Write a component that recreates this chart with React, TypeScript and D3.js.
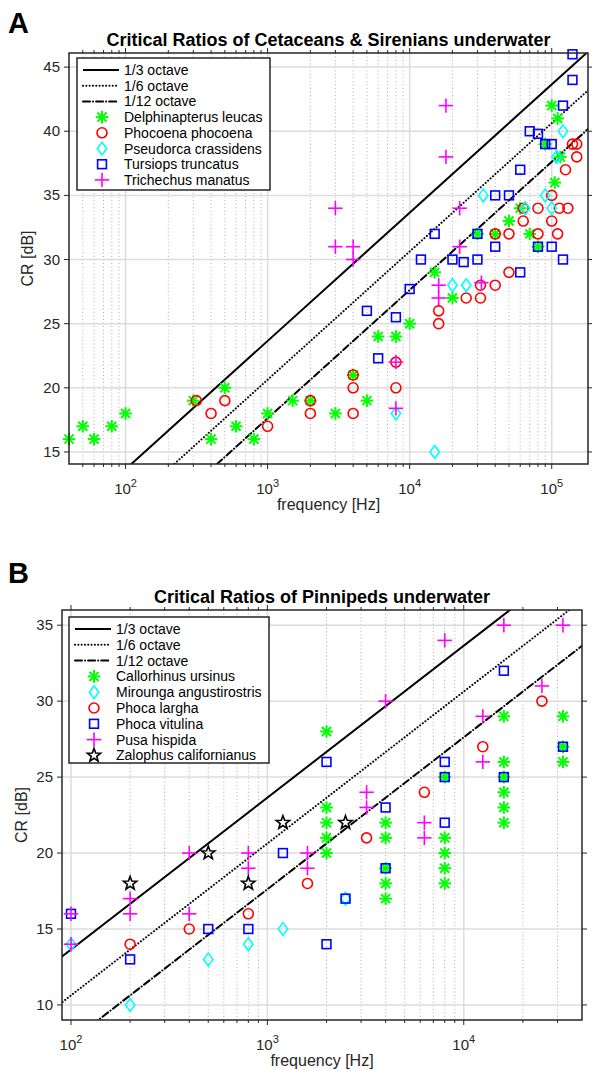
import React from 'react'
import * as d3 from 'd3'

// ---- panel A: cetaceans & sirenians ----
const cetaceanNames = ['Delphinapterus leucas', 'Phocoena phocoena', 'Pseudorca crassidens', 'Tursiops truncatus', 'Trichechus manatus']

const delphinapterus = [
  [40, 16], [50, 17], [60, 16], [80, 17], [100, 18], [300, 19], [400, 16], [500, 20], [600, 17], [800, 16],
  [1000, 18], [1500, 19], [2000, 19], [3000, 18], [4000, 21], [5000, 19], [6000, 24], [8000, 24], [10000, 25],
  [15000, 29], [20000, 27], [30000, 32], [40000, 32], [50000, 33], [60000, 34], [70000, 32], [80000, 31],
  [90000, 39], [100000, 42], [105000, 36], [110000, 41], [115000, 38],
]
const phocoena = [
  [315, 19], [400, 18], [500, 19], [1000, 17], [2000, 19], [2000, 18], [4000, 18], [4000, 20], [4000, 21],
  [8000, 22], [8000, 20], [16000, 26], [16000, 25], [25000, 27], [31500, 27], [31500, 28], [40000, 28], [40000, 32],
  [50000, 32], [50000, 29], [63000, 33], [63000, 34], [80000, 34], [80000, 32], [100000, 35], [100000, 33],
  [110000, 32], [113000, 34], [125000, 37], [130000, 34], [140000, 39], [150000, 39], [150000, 38],
]
const pseudorca = [
  [8000, 18], [15000, 15], [20000, 28], [25000, 28], [33000, 35], [65000, 34], [90000, 35], [100000, 34],
  [108000, 38], [120000, 40],
]
const tursiops = [
  [5000, 26], [6000, 22.3], [8000, 25.5], [10000, 27.7], [12000, 30], [15000, 32], [20000, 30], [24000, 29.8],
  [30000, 30], [30000, 32], [40000, 31], [40000, 35], [50000, 35], [60000, 29], [60000, 37], [70000, 40],
  [80000, 39.8], [80000, 31], [90000, 39], [100000, 39], [100000, 31], [120000, 42], [120000, 30], [140000, 44],
  [140000, 46],
]
const trichechus = [
  [3000, 34], [3000, 31], [4000, 31], [4000, 30], [8000, 22], [8000, 18.4], [16000, 28], [16000, 27], [18000, 42],
  [18000, 38], [22500, 34], [22500, 31], [32000, 28.2],
]

// ---- panel B: pinnipeds ----
const pinnipedNames = ['Callorhinus ursinus', 'Mirounga angustirostris', 'Phoca largha', 'Phoca vitulina', 'Pusa hispida', 'Zalophus californianus']

const callorhinus = [
  [2000, 28], [2000, 23], [2000, 22], [2000, 21], [2000, 20], [4000, 22], [4000, 21], [4000, 19], [4000, 18],
  [4000, 17], [8000, 25], [8000, 21], [8000, 20], [8000, 19], [8000, 18], [16000, 29], [16000, 26], [16000, 25],
  [16000, 24], [16000, 23], [16000, 22], [32000, 29], [32000, 27], [32000, 26],
]
const mirounga = [[100, 14], [200, 10], [500, 13], [800, 14], [1200, 15], [2500, 17]]
const phocaLargha = [[200, 14], [400, 15], [800, 16], [1600, 18], [3200, 21], [6300, 24], [12500, 27], [25000, 30]]
const phocaVitulina = [
  [100, 16], [200, 13], [500, 15], [800, 15], [1200, 20], [2000, 26], [2000, 14], [2500, 17], [4000, 23], [4000, 19],
  [8000, 26], [8000, 25], [8000, 22], [16000, 32], [16000, 25], [32000, 27],
]
const pusa = [
  [100, 16], [100, 14], [200, 17], [200, 16], [400, 20], [400, 16], [800, 20], [800, 19], [1600, 20], [1600, 19],
  [3200, 24], [3200, 23], [4000, 30], [6300, 22], [6300, 21], [8000, 34], [12500, 29], [12500, 26], [16000, 35],
  [25000, 31], [32000, 35],
]
const zalophus = [[200, 18], [500, 20], [800, 18], [1200, 22], [2500, 22]]

// critical-ratio lines for fixed fractional-octave bandwidths, [freq, CR] end points
const octaveLabels = ['1/3 octave', '1/6 octave', '1/12 octave']
const octaveLines = [
  [[10, 3.65], [1e6, 53.65]],
  [[10, 0.63], [1e6, 50.63]],
  [[10, -2.38], [1e6, 47.62]],
]

const yTicksA = [15, 20, 25, 30, 35, 40, 45]
const yTicksB = [10, 15, 20, 25, 30, 35]
const xTicksA = [1e2, 1e3, 1e4, 1e5]
const xTicksB = [1e2, 1e3, 1e4]

const dashes = [null, '0.1,3.2', '7,3,0.1,3']
const axisColor = '#262626'
const font = 'Liberation Sans, Arial, Helvetica, sans-serif'

const Marker = ({ type, x, y, color }) => {
  const sw = 1.6
  if (type === 'asterisk') {
    const r = 6.3, d = r * 0.72
    return (
      <g stroke={color} strokeWidth={2}>
        <line x1={x - r} y1={y} x2={x + r} y2={y} />
        <line x1={x} y1={y - r} x2={x} y2={y + r} />
        <line x1={x - d} y1={y - d} x2={x + d} y2={y + d} />
        <line x1={x - d} y1={y + d} x2={x + d} y2={y - d} />
      </g>
    )
  }
  if (type === 'circle') return <circle cx={x} cy={y} r={5} fill="none" stroke={color} strokeWidth={sw} />
  if (type === 'square') return <rect x={x - 4.4} y={y - 4.4} width={8.8} height={8.8} fill="none" stroke={color} strokeWidth={sw} />
  if (type === 'diamond') {
    return <path d={`M${x},${y - 6.4}L${x + 4.7},${y}L${x},${y + 6.4}L${x - 4.7},${y}Z`} fill="none" stroke={color} strokeWidth={sw} />
  }
  if (type === 'plus') {
    const r = 7.2
    return (
      <g stroke={color} strokeWidth={sw}>
        <line x1={x - r} y1={y} x2={x + r} y2={y} />
        <line x1={x} y1={y - r} x2={x} y2={y + r} />
      </g>
    )
  }
  // pentagram
  const pts = d3.range(10).map(i => {
    const a = -Math.PI / 2 + (i * Math.PI) / 5
    const rr = i % 2 === 0 ? 7 : 2.9
    return [x + rr * Math.cos(a), y + rr * Math.sin(a)]
  })
  return <path d={'M' + pts.map(p => p.join(',')).join('L') + 'Z'} fill="none" stroke={color} strokeWidth={sw} />
}

const Panel = ({ id, letter, letterY, title, titleY, box, xDomain, yDomain, xTicks, yTicks, series, legend, ylabelX }) => {
  const x = d3.scaleLog().domain(xDomain).range([box.l, box.r])
  const y = d3.scaleLinear().domain(yDomain).range([box.b, box.t])
  const minor = []
  for (let d = Math.floor(Math.log10(xDomain[0])); d <= Math.ceil(Math.log10(xDomain[1])); d++) {
    for (let k = 2; k <= 9; k++) {
      const v = k * Math.pow(10, d)
      if (v > xDomain[0] && v < xDomain[1]) minor.push(v)
    }
  }
  const lineGen = d3.line().x(p => x(p[0])).y(p => y(p[1]))
  const rowY = i => legend.y + 12 + i * legend.row
  return (
    <g fontFamily={font}>
      <text x={8} y={letterY} fontSize={29} fontWeight="bold">{letter}</text>
      <text x={(box.l + box.r) / 2} y={titleY} fontSize={18} fontWeight="bold" textAnchor="middle">{title}</text>
      <clipPath id={id}>
        <rect x={box.l} y={box.t} width={box.r - box.l} height={box.b - box.t} />
      </clipPath>
      {/* grid */}
      {minor.map(v => (
        <line key={'m' + v} x1={x(v)} x2={x(v)} y1={box.t} y2={box.b} stroke="#b0b0b0" strokeWidth={1} strokeDasharray="1,2.5" />
      ))}
      {xTicks.map(v => (
        <line key={'gx' + v} x1={x(v)} x2={x(v)} y1={box.t} y2={box.b} stroke="#dcdcdc" strokeWidth={1.5} />
      ))}
      {yTicks.map(v => (
        <line key={'gy' + v} x1={box.l} x2={box.r} y1={y(v)} y2={y(v)} stroke="#dcdcdc" strokeWidth={1.5} />
      ))}
      {/* bandwidth lines */}
      <g clipPath={`url(#${id})`}>
        {octaveLines.map((ln, i) => (
          <path key={i} d={lineGen(ln)} fill="none" stroke="#000" strokeWidth={2}
            strokeDasharray={dashes[i] || undefined} strokeLinecap={dashes[i] ? 'round' : 'butt'} />
        ))}
      </g>
      {/* data */}
      {series.map(s => (
        <g key={s.name}>
          {s.data.map((p, i) => <Marker key={i} type={s.marker} color={s.color} x={x(p[0])} y={y(p[1])} />)}
        </g>
      ))}
      {/* frame and ticks */}
      <rect x={box.l} y={box.t} width={box.r - box.l} height={box.b - box.t} fill="none" stroke={axisColor} strokeWidth={1.5} />
      {minor.map(v => (
        <g key={'mt' + v} stroke={axisColor} strokeWidth={1}>
          <line x1={x(v)} x2={x(v)} y1={box.b} y2={box.b + 3} />
          <line x1={x(v)} x2={x(v)} y1={box.t} y2={box.t - 3} />
        </g>
      ))}
      {xTicks.map(v => (
        <g key={'xt' + v}>
          <line x1={x(v)} x2={x(v)} y1={box.b} y2={box.b + 5} stroke={axisColor} strokeWidth={1} />
          <line x1={x(v)} x2={x(v)} y1={box.t} y2={box.t - 5} stroke={axisColor} strokeWidth={1} />
          <text x={x(v)} y={box.b + 30} fontSize={15} fill={axisColor} textAnchor="middle">
            10<tspan fontSize={11} dy={-7}>{Math.round(Math.log10(v))}</tspan>
          </text>
        </g>
      ))}
      {yTicks.map(v => (
        <g key={'yt' + v}>
          <line x1={box.l - 5} x2={box.l} y1={y(v)} y2={y(v)} stroke={axisColor} strokeWidth={1} />
          <line x1={box.r} x2={box.r + 5} y1={y(v)} y2={y(v)} stroke={axisColor} strokeWidth={1} />
          <text x={box.l - 9} y={y(v) + 5} fontSize={15} fill={axisColor} textAnchor="end">{v}</text>
        </g>
      ))}
      <text x={(box.l + box.r) / 2} y={box.b + 46} fontSize={16} fill={axisColor} textAnchor="middle">frequency [Hz]</text>
      <text transform={`translate(${ylabelX},${(box.t + box.b) / 2}) rotate(-90)`} fontSize={16} fill={axisColor} textAnchor="middle">CR [dB]</text>
      {/* legend */}
      <rect x={legend.x} y={legend.y} width={legend.w} height={legend.h} fill="#fff" stroke={axisColor} strokeWidth={1.5} />
      {octaveLabels.map((lab, i) => (
        <g key={lab}>
          <line x1={legend.x + 6} x2={legend.x + 42} y1={rowY(i)} y2={rowY(i)} stroke="#000" strokeWidth={2}
            strokeDasharray={dashes[i] || undefined} strokeLinecap={dashes[i] ? 'round' : 'butt'} />
          <text x={legend.x + 47} y={rowY(i) + 5} fontSize={14}>{lab}</text>
        </g>
      ))}
      {series.map((s, j) => (
        <g key={'lg' + s.name}>
          <Marker type={s.marker} color={s.color} x={legend.x + 25} y={rowY(j + 3)} />
          <text x={legend.x + 47} y={rowY(j + 3) + 5} fontSize={14}>{s.name}</text>
        </g>
      ))}
    </g>
  )
}

const App = () => {
  const seriesA = [
    { name: cetaceanNames[0], marker: 'asterisk', color: '#00ff00', data: delphinapterus },
    { name: cetaceanNames[1], marker: 'circle', color: '#ff0000', data: phocoena },
    { name: cetaceanNames[2], marker: 'diamond', color: '#00ffff', data: pseudorca },
    { name: cetaceanNames[3], marker: 'square', color: '#0000ff', data: tursiops },
    { name: cetaceanNames[4], marker: 'plus', color: '#ff00ff', data: trichechus },
  ]
  const seriesB = [
    { name: pinnipedNames[0], marker: 'asterisk', color: '#00ff00', data: callorhinus },
    { name: pinnipedNames[1], marker: 'diamond', color: '#00ffff', data: mirounga },
    { name: pinnipedNames[2], marker: 'circle', color: '#ff0000', data: phocaLargha },
    { name: pinnipedNames[3], marker: 'square', color: '#0000ff', data: phocaVitulina },
    { name: pinnipedNames[4], marker: 'plus', color: '#ff00ff', data: pusa },
    { name: pinnipedNames[5], marker: 'star', color: '#000000', data: zalophus },
  ]
  return (
    <svg width={592} height={1071} style={{ position: 'absolute', left: 0, top: 0, background: '#fff' }}>
      <Panel id="clipA" letter="A" letterY={33} title="Critical Ratios of Cetaceans & Sirenians underwater" titleY={46}
        box={{ l: 69, t: 53, r: 588, b: 464 }} xDomain={[40, 1.8e5]} yDomain={[14.06, 46.1]}
        xTicks={xTicksA} yTicks={yTicksA} series={seriesA} ylabelX={33}
        legend={{ x: 77, y: 58, w: 193, h: 132, row: 15.7 }} />
      <Panel id="clipB" letter="B" letterY={583} title="Critical Ratios of Pinnipeds underwater" titleY={603}
        box={{ l: 62, t: 610, r: 582, b: 1020 }} xDomain={[90, 40000]} yDomain={[9.01, 36]}
        xTicks={xTicksB} yTicks={yTicksB} series={seriesB} ylabelX={27}
        legend={{ x: 69, y: 617, w: 200, h: 146, row: 15.8 }} />
    </svg>
  )
}

export default App
